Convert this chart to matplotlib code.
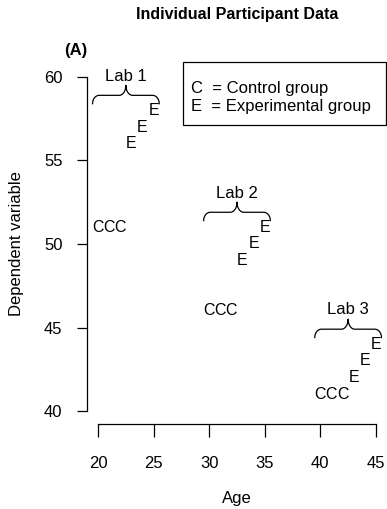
import numpy as np
import matplotlib
matplotlib.use("Agg")
import matplotlib.pyplot as plt
from matplotlib.patches import Rectangle

plt.rcParams['font.family'] = ['Liberation Sans', 'DejaVu Sans']

# Datos por laboratorio: edades y valores de cada grupo
labs = ["Lab 1", "Lab 2", "Lab 3"]
control_ages = [[20, 21, 22], [30, 31, 32], [40, 41, 42]]
control_vals = [[51, 51, 51], [46, 46, 46], [41, 41, 41]]
exp_ages = [[23, 24, 25], [33, 34, 35], [43, 44, 45]]
exp_vals = [[56, 57, 58], [49, 50, 51], [42, 43, 44]]

x_ticks = [20, 25, 30, 35, 40, 45]
y_ticks = [40, 45, 50, 55, 60]
legend_lines = ["C  = Control group", "E  = Experimental group"]


def llave(ax, x0, x1, y, ancho=0.6, alto=0.5, pico=0.6):
    """Dibuja una llave horizontal con las puntas hacia abajo."""
    xm = (x0 + x1) / 2
    th = np.linspace(0, np.pi / 2, 20)
    # curva izquierda
    xa = x0 + ancho * (1 - np.cos(th))
    ya = y + alto * np.sin(th)
    # subida al pico (izquierda)
    xb = xm - ancho + ancho * np.sin(th)
    yb = y + alto + pico * (1 - np.cos(th))
    xs = np.concatenate([xa, xb, 2 * xm - xb[::-1], 2 * xm - xa[::-1]])
    ys = np.concatenate([ya, yb, yb[::-1], ya[::-1]])
    ax.plot(xs, ys, color="black", lw=0.9, clip_on=False)


fig = plt.figure(figsize=(3.87, 5.09), dpi=100)
ax = fig.add_axes([87 / 387, 84.6 / 509, 300 / 387, 360.8 / 509])
ax.set_xlim(19, 46)
ax.set_ylim(39.2, 60.8)

fs = 12
fs_m = 11.5
for i, lab in enumerate(labs):
    for a, v in zip(control_ages[i], control_vals[i]):
        ax.text(a, v, "C", ha="center", va="center", fontsize=fs_m)
    for a, v in zip(exp_ages[i], exp_vals[i]):
        ax.text(a, v, "E", ha="center", va="center", fontsize=fs_m)
    x0 = min(control_ages[i]) - 0.5
    x1 = max(exp_ages[i]) + 0.5
    ytop = max(exp_vals[i])
    llave(ax, x0, x1, ytop + 0.4)
    ax.text((x0 + x1) / 2, ytop + 2.05, lab, ha="center", va="center",
            fontsize=fs, clip_on=False)

# Ejes estilo R
for s in ["top", "right"]:
    ax.spines[s].set_visible(False)
ax.spines["left"].set_bounds(40, 60)
ax.spines["bottom"].set_bounds(20, 45)
ax.spines["left"].set_linewidth(0.9)
ax.spines["bottom"].set_linewidth(0.9)
ax.set_xticks(x_ticks)
ax.set_yticks(y_ticks)
ax.tick_params(axis="x", length=9, width=0.9, pad=14, labelsize=fs)
ax.tick_params(axis="y", length=7.2, width=0.9, pad=10.5, labelsize=fs)
ax.patch.set_visible(False)

# Leyenda
ax.add_patch(Rectangle((0.32, 0.83), 0.677, 0.174, transform=ax.transAxes,
                       fill=False, lw=0.9, edgecolor="black", clip_on=False))
ax.text(0.347, 0.932, legend_lines[0], transform=ax.transAxes,
        ha="left", va="center", fontsize=fs)
ax.text(0.347, 0.880, legend_lines[1], transform=ax.transAxes,
        ha="left", va="center", fontsize=fs)

fig.text(237 / 387, 1 - 14 / 509, "Individual Participant Data",
         ha="center", va="center", fontsize=11.5, fontweight="bold")
fig.text(64 / 387, 1 - 50 / 509, "(A)", ha="left", va="center",
         fontsize=12, fontweight="bold")
fig.text(17 / 387, 1 - 244 / 509, "Dependent variable", rotation=90,
         ha="center", va="center", fontsize=fs)
fig.text(237 / 387, 1 - 498 / 509, "Age", ha="center", va="center",
         fontsize=fs)

fig.savefig("out.png", dpi=100)
